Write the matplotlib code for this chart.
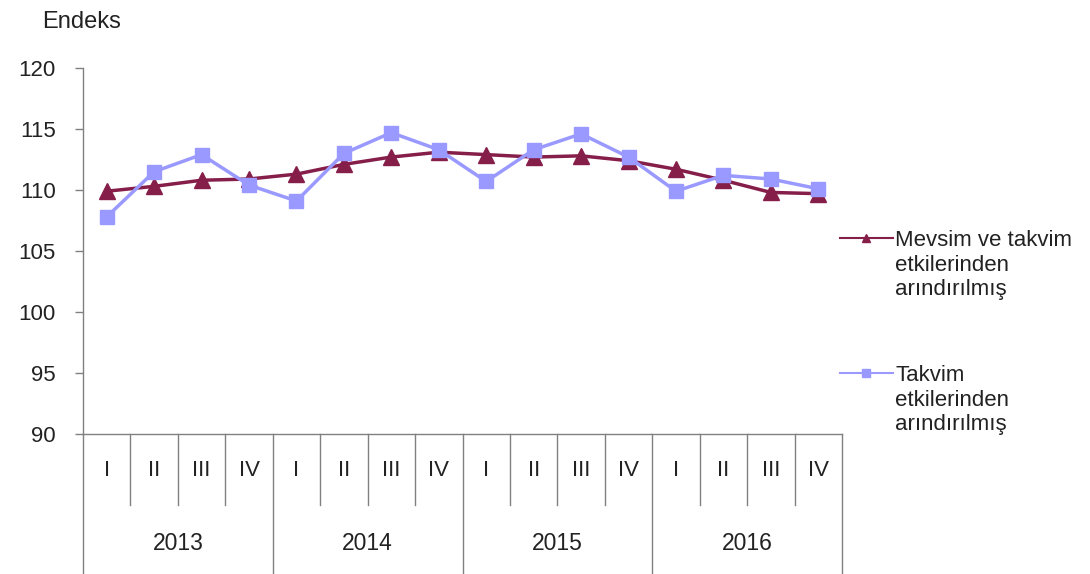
import matplotlib.pyplot as plt
import matplotlib.transforms as mtransforms
from matplotlib.lines import Line2D

plt.rcParams['font.family'] = ['Liberation Sans', 'DejaVu Sans']

# Data
quarters = ['I', 'II', 'III', 'IV'] * 4
years = ['2013', '2014', '2015', '2016']
mevsim = [109.9, 110.3, 110.8, 110.9, 111.3, 112.1, 112.7, 113.1,
          112.9, 112.7, 112.8, 112.4, 111.7, 110.8, 109.8, 109.7]
takvim = [107.8, 111.5, 112.9, 110.4, 109.1, 113.0, 114.7, 113.3,
          110.7, 113.3, 114.6, 112.7, 109.9, 111.2, 110.9, 110.1]
legend_labels = [['Mevsim ve takvim', 'etkilerinden', 'arındırılmış'],
                 ['Takvim', 'etkilerinden', 'arındırılmış']]

c1 = '#861e4a'
c2 = '#9999ff'
grey = '#808080'
txt = '#222222'
fs = 16
W, H = 1090., 574.

fig = plt.figure(figsize=(10.9, 5.74), dpi=100)
ax = fig.add_axes([83/W, 1 - 434/H, 759/W, 366/H])

x = list(range(len(mevsim)))
ax.plot(x, mevsim, color=c1, lw=2.5, marker='^', ms=11, zorder=3)
ax.plot(x, takvim, color=c2, lw=2.5, marker='s', ms=10.5, zorder=4)

ax.set_xlim(-0.5, 15.5)
ax.set_ylim(90, 120)
ax.set_yticks(range(90, 121, 5))
ax.set_xticks([])
ax.tick_params(axis='y', length=6, width=1, color=grey, pad=13.5,
               labelsize=fs, labelcolor=txt)
for s in ['top', 'right']:
    ax.spines[s].set_visible(False)
for s in ['left', 'bottom']:
    ax.spines[s].set_color(grey)
    ax.spines[s].set_linewidth(1)

# multi-level category axis
tr = mtransforms.blended_transform_factory(ax.transData, ax.transAxes)
y_q = (434 - 505) / 366.
y_bot = (434 - 574) / 366.
for i in range(1, 16):
    if i % 4 == 0:
        continue
    ax.plot([i - 0.5, i - 0.5], [0, y_q], color=grey, lw=1,
            transform=tr, clip_on=False)
for i in range(0, 17, 4):
    ax.plot([i - 0.5, i - 0.5], [0, y_bot], color=grey, lw=1,
            transform=tr, clip_on=False)
for i, q in enumerate(quarters):
    ax.text(i, (434 - 471) / 366., q, transform=tr, ha='center',
            va='center', fontsize=fs, color=txt)
for j, yr in enumerate(years):
    ax.text(4 * j + 1.5, (434 - 543) / 366., yr, transform=tr,
            ha='center', va='center', fontsize=fs + 0.5, color=txt)

fig.text(42/W, 1 - 22/H, 'Endeks', ha='left', va='center',
         fontsize=fs + 1, color=txt)

# legend
for ly, lines, col, mk in [(238, legend_labels[0], c1, '^'),
                           (373, legend_labels[1], c2, 's')]:
    yy = 1 - ly/H
    fig.add_artist(Line2D([840/W, 893/W], [yy, yy], color=col, lw=1.5,
                          transform=fig.transFigure))
    fig.add_artist(Line2D([866/W], [yy], color=col, marker=mk, ms=6,
                          transform=fig.transFigure))
    for k, line in enumerate(lines):
        fig.text(895/W, 1 - (ly + 8 + 24.5 * k)/H, line, ha='left',
                 va='baseline', fontsize=fs, color=txt)

fig.savefig('out.png', dpi=100)
